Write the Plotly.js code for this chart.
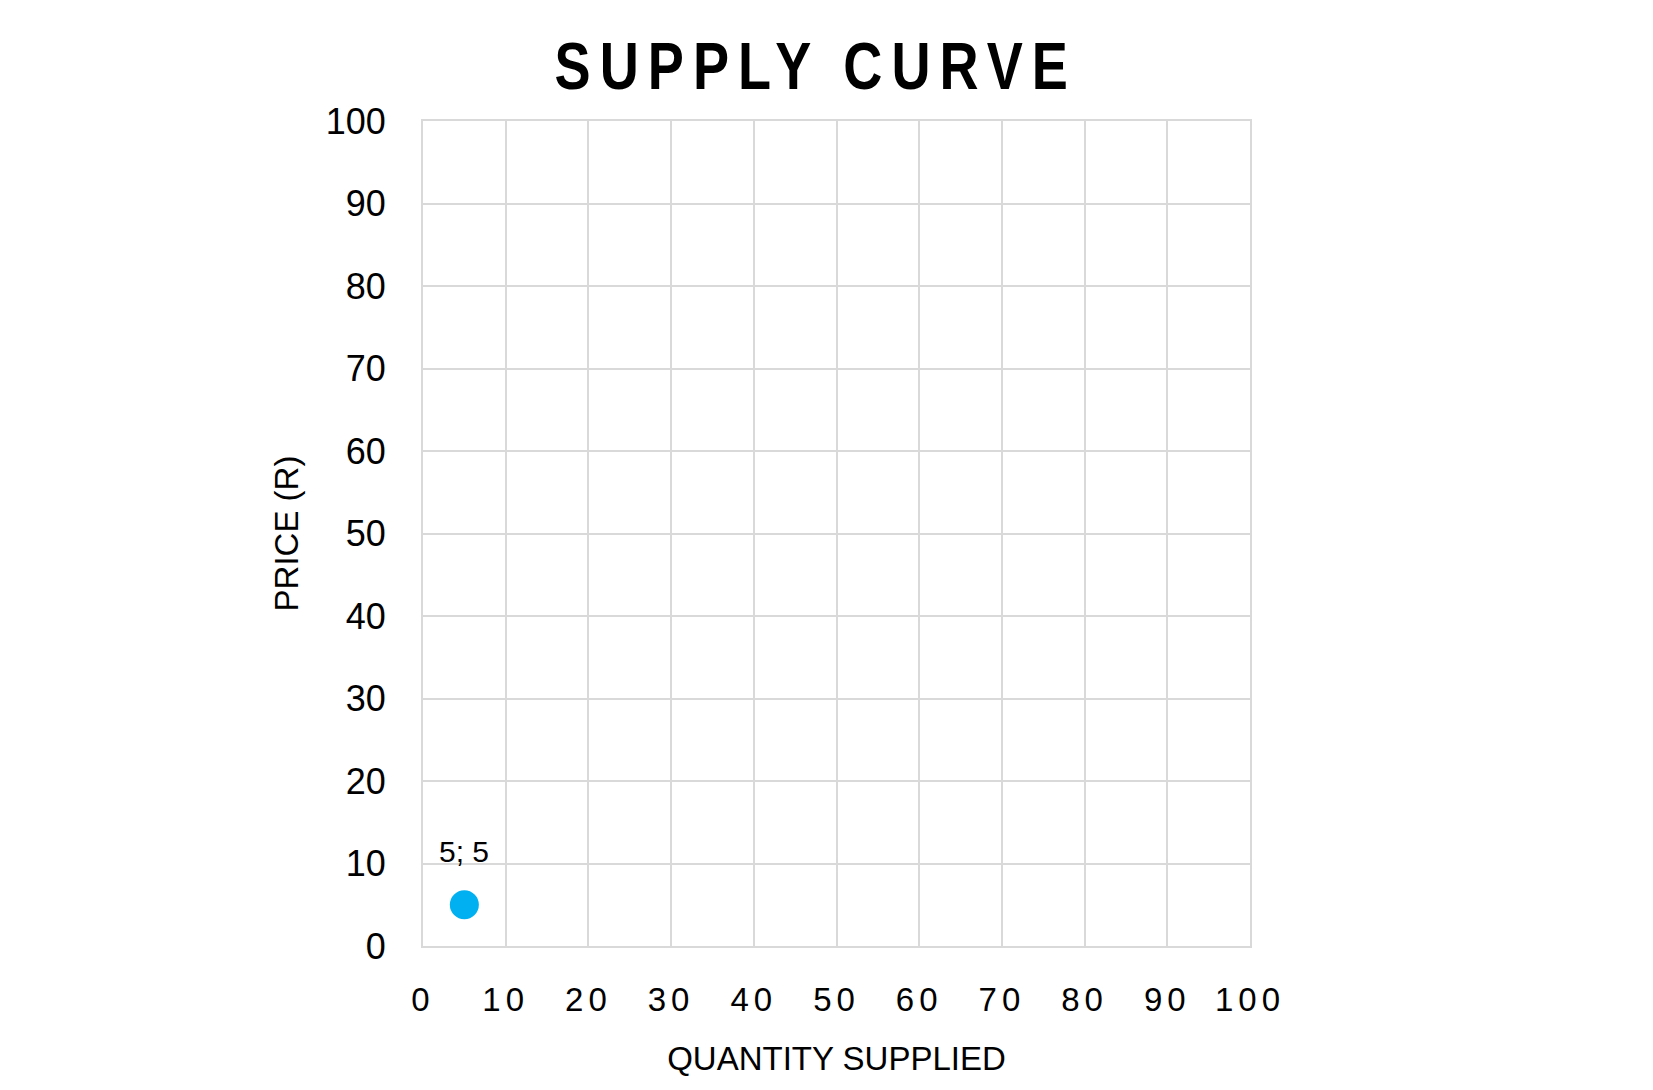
<!DOCTYPE html>
<html>
<head>
<meta charset="utf-8">
<script src="https://cdn.plot.ly/plotly-3.0.1.min.js"></script>
<style>
  html, body { margin: 0; padding: 0; background: #fff; }
  #chart { width: 1653px; height: 1090px; }
</style>
</head>
<body>
<div id="chart"></div>
<script>
// Data
const quantitySupplied = [5];
const price = [5];
const xTickValues = [0, 10, 20, 30, 40, 50, 60, 70, 80, 90, 100];
const yTickValues = [0, 10, 20, 30, 40, 50, 60, 70, 80, 90, 100];
const chartTitle = 'SUPPLY CURVE';
const xAxisTitle = 'QUANTITY SUPPLIED';
const yAxisTitle = 'PRICE (R)';

const pointLabels = quantitySupplied.map((q, i) => q + '; ' + price[i]);

const FONT = 'Liberation Sans, Arial, sans-serif';
const GRID = '#d9d9d9';

const trace = {
  type: 'scatter',
  mode: 'markers',
  x: quantitySupplied,
  y: price,
  marker: { color: '#00b0f0', size: 29, line: { width: 0 } },
  hoverinfo: 'skip',
  showlegend: false
};

const annotations = quantitySupplied.map((q, i) => ({
  x: q, y: price[i], xref: 'x', yref: 'y',
  text: pointLabels[i], showarrow: false,
  yshift: 53,
  font: { family: FONT, size: 30, color: '#000' }
}));

const layout = {
  width: 1653,
  height: 1090,
  paper_bgcolor: '#ffffff',
  plot_bgcolor: '#ffffff',
  margin: { l: 423, r: 403, t: 121, b: 144, pad: 0 },
  title: {
    text: chartTitle,
    x: 0.4935, xref: 'container', xanchor: 'center',
    y: 1 - 66 / 1090, yref: 'container', yanchor: 'middle',
    font: { family: 'Liberation Sans, Arial, sans-serif', size: 66, color: '#000', weight: 'bold' }
  },
  xaxis: {
    range: [0, 100],
    tickvals: xTickValues,
    ticktext: xTickValues.map(String),
    showgrid: true, gridcolor: GRID, gridwidth: 2,
    zeroline: false,
    showline: true, linecolor: GRID, linewidth: 2, mirror: true,
    ticks: '',
    ticklabelstandoff: 23,
    tickfont: { family: FONT, size: 33, color: '#000' },
    title: { text: xAxisTitle, standoff: 30, font: { family: FONT, size: 33, color: '#000' } },
    fixedrange: true
  },
  yaxis: {
    range: [0, 100],
    tickvals: yTickValues,
    ticktext: yTickValues.map(String),
    showgrid: true, gridcolor: GRID, gridwidth: 2,
    zeroline: false,
    showline: true, linecolor: GRID, linewidth: 2, mirror: true,
    ticks: '',
    ticklabelstandoff: 28,
    tickfont: { family: FONT, size: 36, color: '#000' },
    title: { text: yAxisTitle, standoff: 17, font: { family: FONT, size: 33, color: '#000' } },
    fixedrange: true
  },
  annotations: annotations,
  showlegend: false
};

Plotly.newPlot('chart', [trace], layout, { displayModeBar: false, staticPlot: true }).then(gd => {
  gd.querySelectorAll('.gtitle').forEach(t => {
    t.style.letterSpacing = '11px';
    t.style.transformBox = 'fill-box';
    t.style.transformOrigin = 'center';
    t.style.transform = 'scaleX(0.82)';
  });
  gd.querySelectorAll('.xtick text').forEach(t => { t.style.letterSpacing = '5px'; });
});
</script>
</body>
</html>
